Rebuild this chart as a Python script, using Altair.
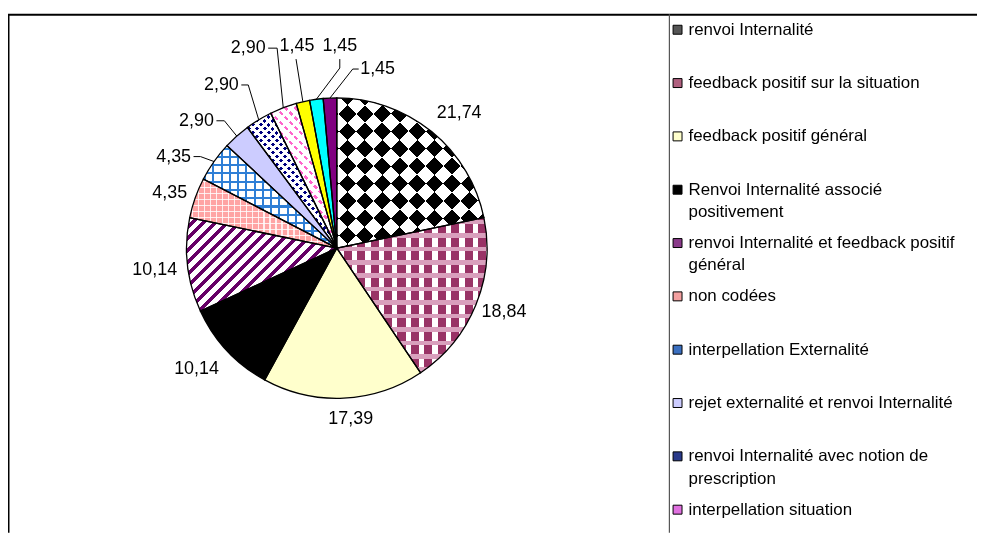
import math
import altair as alt
import pandas as pd

# ---------------- data ----------------
categories = [
    "renvoi Internalité",
    "feedback positif sur la situation",
    "feedback positif général",
    "Renvoi Internalité associé positivement",
    "renvoi Internalité et feedback positif général",
    "non codées",
    "interpellation Externalité",
    "rejet externalité et renvoi Internalité",
    "renvoi Internalité avec notion de prescription",
    "interpellation situation",
    "catégorie 11",
    "catégorie 12",
    "catégorie 13",
]
values = [21.74, 18.84, 17.39, 10.14, 10.14, 4.35, 4.35, 2.90, 2.90, 2.90, 1.45, 1.45, 1.45]

legend_line1 = [
    "renvoi Internalité",
    "feedback positif sur la situation",
    "feedback positif général",
    "Renvoi Internalité associé",
    "renvoi Internalité et feedback positif",
    "non codées",
    "interpellation Externalité",
    "rejet externalité et renvoi Internalité",
    "renvoi Internalité avec notion de",
    "interpellation situation",
    "catégorie 11",
    "catégorie 12",
    "catégorie 13",
]
legend_line2 = ["", "", "", "positivement", "général", "", "", "", "prescription", "", "", "", ""]

# ---------------- styles ----------------
base_colors = ["#ffffff", "#993366", "#ffffcc", "#000000", "#ffffff", "#ffa4a4",
               "#ffffff", "#ccccff", "#000080", "#ffffff", "#ffff00", "#00ffff", "#800080"]
legend_colors = ["#555555", "#b0607f", "#ffffcc", "#000000", "#8a3a8a", "#f4a0a0",
                 "#3a6fc0", "#ccccff", "#2a3a8a", "#e070e0", "#ffff00", "#00ffff", "#800080"]
TR = "rgba(255,255,255,0)"
patterns = {
    0: [(45, 24.75, [(0, "#000000"), (0.5, "#ffffff")], None),
        (-45, 24.75, [(0, "#000000"), (0.5, "#ffffff")], "difference")],
    1: [(0, 13.5, [(0, TR), (0.6, "#ffffff")], None),
        (90, 13.5, [(0, TR), (0.66, "#d9a0bd")], None)],
    4: [(45, 8.5, [(0, "#660066"), (0.42, TR)], None)],
    5: [(0, 6.0, [(0, TR), (0.8, "rgba(255,255,255,0.8)")], None),
        (90, 6.0, [(0, TR), (0.8, "rgba(255,255,255,0.8)")], None)],
    6: [(0, 8.3, [(0, TR), (0.74, "#2f7fd6")], None),
        (90, 8.3, [(0, TR), (0.74, "#2f7fd6")], None)],
    8: [(45, 5.66, [(0, TR), (0.5, "#ffffff")], None),
        (-45, 5.66, [(0, TR), (0.5, "#ffffff")], None)],
    9: [(-45, 7.0, [(0, "#ff66cc"), (0.35, TR)], None),
        (45, 7.0, [(0, TR), (0.6, "#ffffff")], None)],
}

# ---------------- layout ----------------
PAGE = 8
W_TOTAL, H_TOTAL = 976, 526
CX, CY = 338.5 - PAGE, 248.0 - PAGE
R = 151
label_offsets = [(123, -136), (168, 64), (14, 172), (-141, 122), (-183, 22), (-168, -55),
                 (-164, -92), (-141, -128), (-116, -164), (-89, -201), (-40, -203), (3, -203), (41, -180)]
leaders = [None, None, None, None, None, None,
           (20, 0, 27, 0), (20, 0, 28, 0), (20, 0, 27, 0), (20, 0, 29, 0),
           (-1, 13, -1, 13), (0, 13, 0, 22), (-19, 0, -25, 0)]

starts = []
acc = 0.0
for v in values:
    starts.append(acc)
    acc += v
total = acc


def pct_to_deg(p):
    return p / total * 360.0


def sector_bbox(a0, a1):
    pts = [(CX, CY)]
    angs = [a0, a1] + [k * 90 for k in range(0, 5) if a0 < k * 90 < a1]
    for a in angs:
        r = math.radians(a)
        pts.append((CX + R * math.sin(r), CY - R * math.cos(r)))
    xs = [p[0] for p in pts]
    ys = [p[1] for p in pts]
    return min(xs), min(ys), max(xs), max(ys)


def stripes(bbox, phi_deg, period, segs):
    x0, y0, x1, y1 = bbox
    W, H = x1 - x0, y1 - y0
    c, s = math.cos(math.radians(phi_deg)), math.sin(math.radians(phi_deg))
    corners = [(x0, y0), (x1, y0), (x0, y1), (x1, y1)]
    ps = [x * c + y * s for x, y in corners]
    pmin, pmax = min(ps), max(ps)
    kx, ky = corners[ps.index(pmin)]
    X1, Y1 = (kx - x0) / W, (ky - y0) / H
    S = W * W * c * c + H * H * s * s
    L = pmax - pmin
    k = L / S
    X2, Y2 = X1 + k * W * c, Y1 + k * H * s
    events = []
    for n in range(math.floor(pmin / period) - 1, math.ceil(pmax / period) + 2):
        for f, col in segs:
            events.append((n * period + f * period, col))
    events.sort(key=lambda e: e[0])
    cur = events[0][1]
    for p, col in events:
        if p <= pmin:
            cur = col
    stops = [{"offset": 0, "color": cur}]
    for p, col in events:
        if pmin < p < pmax:
            t = round((p - pmin) / L, 5)
            stops.append({"offset": t, "color": cur})
            stops.append({"offset": t, "color": col})
            cur = col
    stops.append({"offset": 1, "color": cur})
    return {"gradient": "linear", "x1": X1, "y1": Y1, "x2": X2, "y2": Y2, "stops": stops}


# ---------------- tables ----------------
slices = pd.DataFrame({"cat": categories, "value": values,
                       "order": list(range(len(values))), "base": base_colors})

labels = pd.DataFrame({
    "value": values,
    "lx": [CX + d[0] for d in label_offsets],
    "ly": [CY + d[1] for d in label_offsets],
})

lead_rows = []
for i, ld in enumerate(leaders):
    if ld is None:
        continue
    lx, ly = CX + label_offsets[i][0], CY + label_offsets[i][1]
    mid = math.radians(pct_to_deg(starts[i] + values[i] / 2))
    ex, ey = CX + R * math.sin(mid), CY - R * math.cos(mid)
    pts = [(lx + ld[0], ly + ld[1]), (lx + ld[2], ly + ld[3]), (ex, ey)]
    for j, (px, py) in enumerate(pts):
        lead_rows.append({"lid": i, "seq": j, "px": px, "py": py})
lead_df = pd.DataFrame(lead_rows)

legend_df = pd.DataFrame({"idx": list(range(len(categories))), "line1": legend_line1,
                          "line2": legend_line2, "sym": legend_colors})

# ---------------- chart ----------------
theta_scale = alt.Scale(domain=[0, total], range=[0, 2 * math.pi])
base = alt.Chart(slices).transform_window(
    cum="sum(value)", sort=[alt.SortField("order")], frame=[None, 0]
).transform_calculate(t0="datum.cum - datum.value", t1="datum.cum")

arc_enc = dict(theta=alt.Theta("t0:Q", scale=theta_scale, stack=None),
               theta2=alt.Theta2("t1:Q"), x=alt.value(CX), y=alt.value(CY))

layers = [base.mark_arc(radius=R).encode(fill=alt.Fill("base:N", scale=None), **arc_enc)]

for i, plist in patterns.items():
    a0 = pct_to_deg(starts[i])
    a1 = pct_to_deg(starts[i] + values[i])
    bb = sector_bbox(a0, a1)
    for phi, period, segs, blend in plist:
        kw = {"radius": R, "fill": stripes(bb, phi, period, segs)}
        if blend:
            kw["blend"] = blend
        layers.append(base.transform_filter(alt.datum.order == i).mark_arc(**kw).encode(**arc_enc))

layers.append(base.mark_arc(radius=R, filled=False, stroke="black", strokeWidth=1.3).encode(**arc_enc))

layers.append(alt.Chart(lead_df).mark_line(color="black", strokeWidth=1).encode(
    x=alt.X("px:Q", scale=None, axis=None), y=alt.Y("py:Q", scale=None, axis=None),
    detail="lid:N", order="seq:Q"))

layers.append(alt.Chart(labels).transform_calculate(
    txt="replace(format(datum.value, '.2f'), '.', ',')"
).mark_text(font="Liberation Sans", fontSize=18, align="center", baseline="middle", color="black").encode(
    x=alt.X("lx:Q", scale=None, axis=None), y=alt.Y("ly:Q", scale=None, axis=None), text="txt:N"))

# frame
one = alt.Chart(pd.DataFrame({"a": [0]}))
layers.append(one.mark_rule(color="black", strokeWidth=2).encode(
    x=alt.value(0), x2=alt.value(974), y=alt.value(5.5), y2=alt.value(5.5)))
layers.append(one.mark_rule(color="black", strokeWidth=2).encode(
    x=alt.value(0.5), x2=alt.value(0.5), y=alt.value(5), y2=alt.value(H_TOTAL)))
layers.append(one.mark_rule(color="#555555", strokeWidth=1.2).encode(
    x=alt.value(664.8), x2=alt.value(664.8), y=alt.value(5), y2=alt.value(H_TOTAL)))

# legend (entries below the visible frame are cut off, as in the original)
leg = alt.Chart(legend_df).transform_calculate(
    ly="20.5 + 53.6 * datum.idx"
).transform_filter("datum.ly < 515")
layers.append(leg.mark_square(size=81, stroke="black", strokeWidth=1, opacity=1).encode(
    x=alt.value(673), y=alt.Y("ly:Q", scale=None, axis=None), fill=alt.Fill("sym:N", scale=None)))
layers.append(leg.mark_text(font="Liberation Sans", fontSize=17, align="left", baseline="middle", color="black").encode(
    x=alt.value(684), y=alt.Y("ly:Q", scale=None, axis=None), text="line1:N"))
layers.append(leg.mark_text(font="Liberation Sans", fontSize=17, align="left", baseline="middle", color="black", dy=22.5).encode(
    x=alt.value(684), y=alt.Y("ly:Q", scale=None, axis=None), text="line2:N"))

chart = alt.layer(*layers).properties(
    width=W_TOTAL, height=H_TOTAL, padding=0,
    autosize=alt.AutoSizeParams(type="none"),
).configure_view(stroke=None)

chart.save("out.html", embed_options={"renderer": "svg", "actions": False})
